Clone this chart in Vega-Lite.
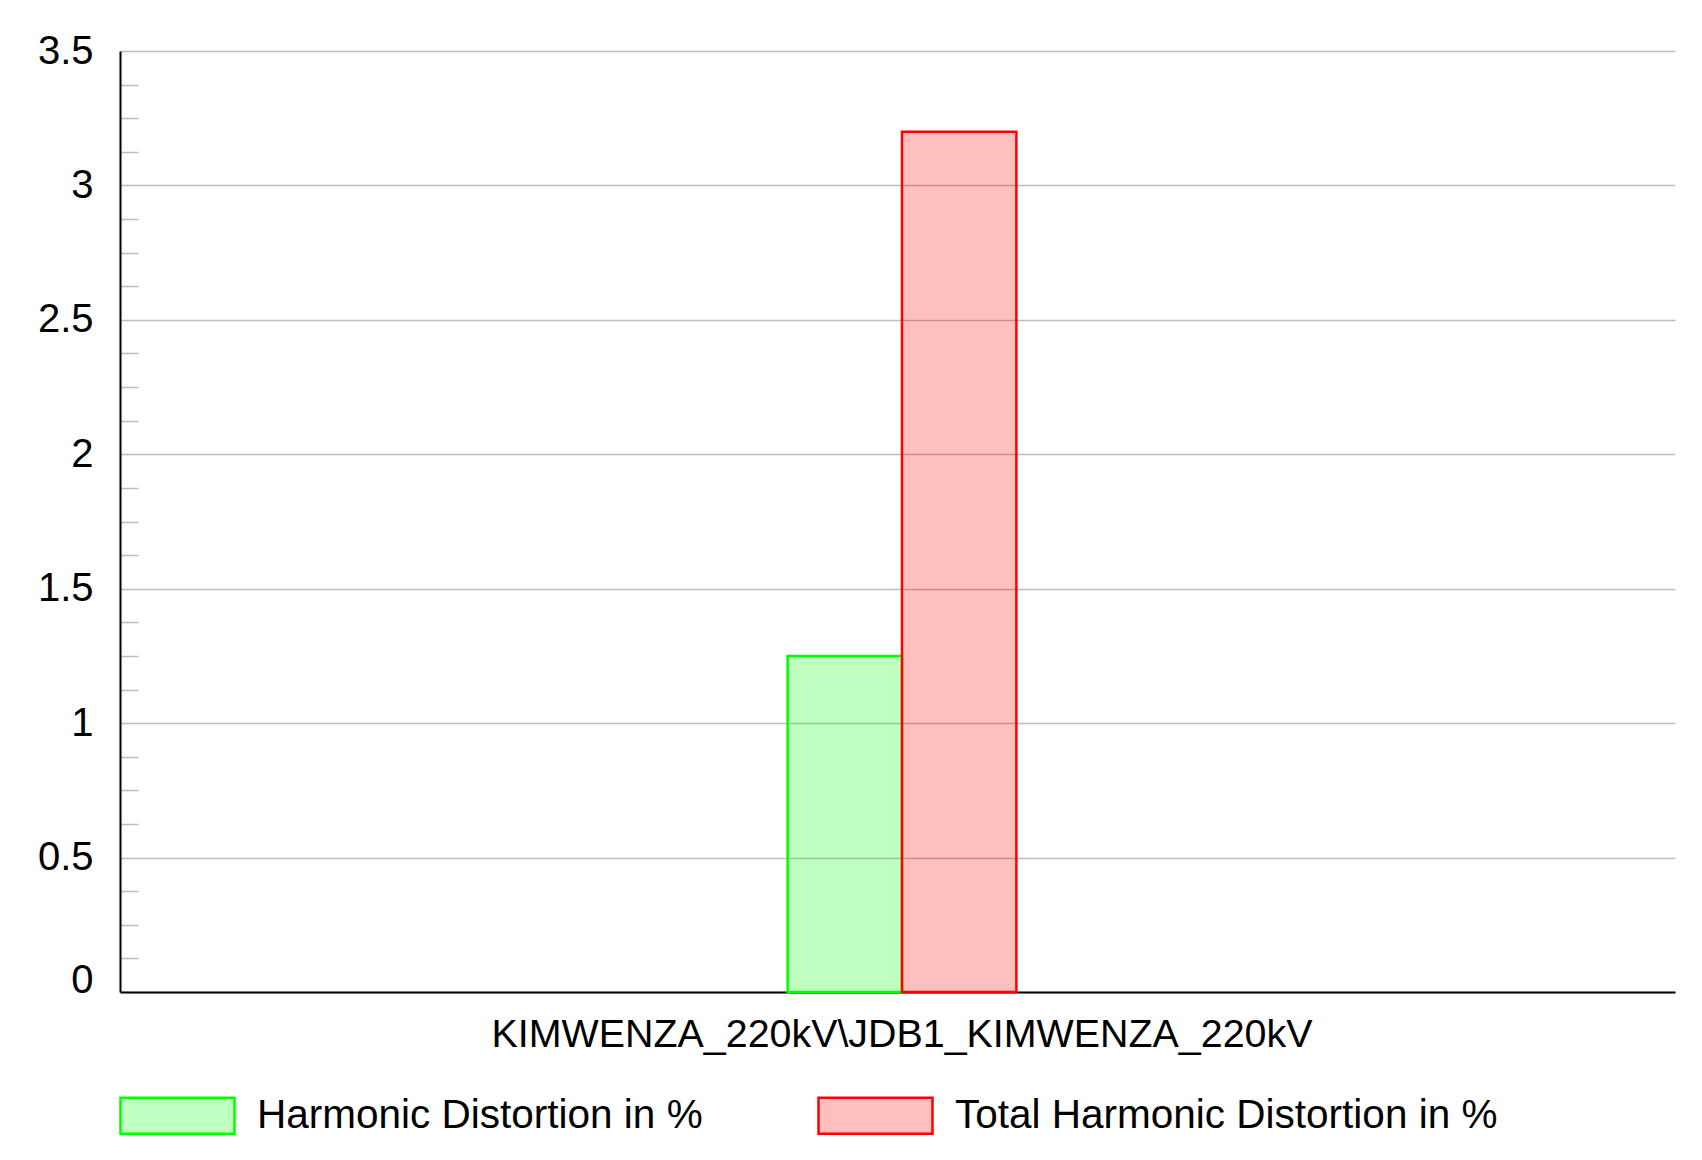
{
  "$schema": "https://vega.github.io/schema/vega-lite/v6.json",
  "width": 1555,
  "height": 941,
  "autosize": "none",
  "padding": {"left": 120, "top": 51, "right": 27, "bottom": 168},
  "background": "white",
  "config": {
    "view": {"stroke": null},
    "font": "Liberation Sans",
    "legend": {
      "labelFontSize": 40.5,
      "labelColor": "black",
      "labelFont": "Liberation Sans",
      "labelLimit": 2000,
      "labelOffset": 21,
      "symbolType": "M-1,-0.316H1V0.316H-1Z",
      "symbolSize": 12996,
      "symbolStrokeWidth": 2.5,
      "columnPadding": 110,
      "padding": 0,
      "offset": 0
    }
  },
  "data": {
    "values": [
      {"bus": "KIMWENZA_220kV\\JDB1_KIMWENZA_220kV", "series": "Harmonic Distortion in %", "value": 1.25},
      {"bus": "KIMWENZA_220kV\\JDB1_KIMWENZA_220kV", "series": "Total Harmonic Distortion in %", "value": 3.2}
    ]
  },
  "mark": {"type": "bar", "strokeWidth": 2.5},
  "encoding": {
    "x": {
      "field": "bus",
      "type": "nominal",
      "scale": {"paddingInner": 0.655, "paddingOuter": 1, "align": 0.5034},
      "axis": {
        "title": null,
        "ticks": false,
        "domainColor": "black",
        "domainWidth": 2,
        "labelFontSize": 39.4,
        "labelColor": "black",
        "labelPadding": 23,
        "labelLimit": 2000,
        "labelAngle": 0
      }
    },
    "xOffset": {
      "field": "series",
      "type": "nominal",
      "scale": {"paddingInner": 0, "paddingOuter": 0}
    },
    "y": {
      "field": "value",
      "type": "quantitative",
      "scale": {"domain": [0, 3.5], "nice": false},
      "axis": {
        "title": null,
        "values": [0, 0.125, 0.25, 0.375, 0.5, 0.625, 0.75, 0.875, 1, 1.125, 1.25, 1.375, 1.5, 1.625, 1.75, 1.875, 2, 2.125, 2.25, 2.375, 2.5, 2.625, 2.75, 2.875, 3, 3.125, 3.25, 3.375, 3.5],
        "domainColor": "black",
        "domainWidth": 2,
        "grid": true,
        "gridColor": "#bdbdbd",
        "gridWidth": 1.5,
        "gridOpacity": {"condition": {"test": "datum.value % 0.5 !== 0", "value": 0}, "value": 1},
        "tickSize": -18,
        "tickColor": "#bdbdbd",
        "tickWidth": 1.5,
        "tickOpacity": {"condition": {"test": "datum.value % 0.5 === 0", "value": 0}, "value": 1},
        "labelExpr": "datum.value % 0.5 === 0 ? '' + datum.value : ''",
        "labelFontSize": 40,
        "labelColor": "black",
        "labelPadding": 45,
        "labelBaseline": {"condition": {"test": "datum.value === 0", "value": "alphabetic"}, "value": "middle"},
        "labelOverlap": false,
        "labelFlush": false
      }
    },
    "fill": {
      "field": "series",
      "type": "nominal",
      "scale": {"range": ["#00ff0040", "#ff000040"]},
      "legend": {"title": null, "orient": "none", "legendX": -1, "legendY": 1006, "direction": "horizontal", "columns": 2}
    },
    "stroke": {
      "field": "series",
      "type": "nominal",
      "scale": {"range": ["#00ff00", "#ff0000"]},
      "legend": {"title": null, "orient": "none", "legendX": -1, "legendY": 1006, "direction": "horizontal", "columns": 2}
    }
  }
}
